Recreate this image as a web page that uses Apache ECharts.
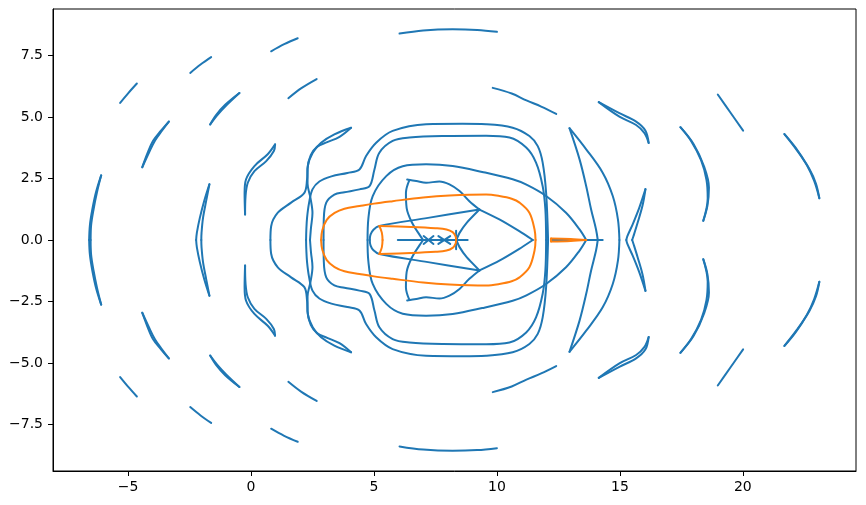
<!DOCTYPE html>
<html><head><meta charset="utf-8">
<script src="https://cdn.jsdelivr.net/npm/echarts@6/dist/echarts.min.js"></script>
<style>html,body{margin:0;padding:0;background:#fff}#c{width:866px;height:505px}</style>
</head><body><div id="c"></div>
<script>
// ---- tick labels ----
const xTicks = [-5, 0, 5, 10, 15, 20];
const yTicks = [-7.5, -5, -2.5, 0, 2.5, 5, 7.5];

// ---- blue outer fragments (upper half; lower half is their mirror image) ----
const arcA2 = [[-5.32,5.58],[-4.98,5.99],[-4.64,6.37]];
const arcA3a = [[-4.42,2.96],[-4.22,3.5],[-3.98,4.04],[-3.66,4.45],[-3.34,4.82]];
const arcA3b = [[-4.42,2.96],[-4.15,3.55],[-3.9,4.05],[-3.62,4.45],[-3.34,4.82]];
const arcA4 = [[-2.47,6.8],[-2.05,7.14],[-1.62,7.44]];
const arcA5a = [[-1.66,4.7],[-1.42,5.08],[-1.05,5.5],[-0.47,5.98]];
const arcA5b = [[-1.66,4.7],[-1.35,5.1],[-1.0,5.48],[-0.47,5.98]];
const arcA6 = [[0.82,7.68],[1.35,7.97],[1.9,8.21]];
const arcA7 = [[1.52,5.77],[2.05,6.18],[2.67,6.55]];
const arcTop = [[6.04,8.4],[7.0,8.53],[8.2,8.58],[9.2,8.55],[10.0,8.47]];
const arcA9 = [[9.83,6.19],[10.6,5.96],[11.2,5.68],[11.8,5.43],[12.41,5.13]];
const arcA10 = [[18.98,5.92],[19.5,5.18],[20.01,4.45]];
const lensA11a = [[21.69,4.31],[22.15,3.75],[22.6,3.05],[22.9,2.4],[23.11,1.7]];
const lensA11b = [[21.69,4.31],[22.2,3.65],[22.7,2.9],[22.97,2.3],[23.11,1.7]];
const lensA12a = [[17.46,4.59],[17.9,4.02],[18.3,3.25],[18.52,2.45],[18.57,1.7],[18.39,0.78]];
const lensA12b = [[17.46,4.59],[18.0,3.9],[18.42,3.0],[18.62,2.14],[18.56,1.4],[18.39,0.78]];
const lensA13a = [[14.14,5.61],[14.98,5.16],[15.66,4.82],[16.04,4.45],[16.17,3.95]];
const lensA13b = [[14.14,5.61],[14.98,5.02],[15.66,4.68],[16.0,4.35],[16.17,3.95]];
const lensZa = [[0.98,3.89],[0.68,3.49],[0.14,3.01],[-0.2,2.47],[-0.26,1.92],[-0.24,1.04]];
const lensZb = [[0.98,3.89],[0.93,3.62],[0.62,3.21],[0.14,2.8],[-0.13,2.33],[-0.22,1.79],[-0.24,1.04]];

// ---- blue curves reaching the x axis (upper half) ----
const arcA1a = [[-6.09,2.63],[-6.3,1.95],[-6.45,1.25],[-6.55,0.6],[-6.58,0]];
const arcA1b = [[-6.09,2.63],[-6.26,1.95],[-6.4,1.25],[-6.5,0.6],[-6.52,0]];
const lensLa = [[-1.69,2.27],[-1.9,1.6],[-2.08,0.9],[-2.2,0.3],[-2.23,0]];
const lensLb = [[-1.69,2.27],[-1.82,1.6],[-1.95,0.9],[-2.01,0.3],[-2.02,0]];
const leafR1 = [[12.95,4.55],[13.36,3.28],[13.63,2.19],[13.83,1.24],[14.03,0.43],[14.1,0]];
const leafR2 = [[12.95,4.55],[13.63,3.69],[14.3,2.74],[14.71,1.79],[14.92,0.84],[14.98,0]];
const hookA15a = [[16.04,2.07],[15.79,1.32],[15.52,0.64],[15.3,0.15],[15.26,0]];
const hookA15b = [[16.04,2.07],[15.92,1.4],[15.72,0.7],[15.55,0.15],[15.5,0]];
const loopL1 = [[12.08,0],[12.0,1.92],[11.86,3.15],[11.66,3.82],[11.32,4.23],[10.64,4.57],[9.56,4.71],[8.6,4.73],[7.12,4.71],[5.76,4.44],[5.09,3.96],[4.68,3.42],[4.41,2.87],[3.92,2.73],[3.27,2.59],[2.78,2.38],[2.5,2.06],[2.36,1.5],[2.28,0.9],[2.25,0.4],[2.24,0]];
const loopL2 = [[12.0,0],[11.97,1.24],[11.86,2.19],[11.59,3.15],[11.19,3.76],[10.51,4.17],[9.56,4.24],[7.8,4.23],[6.44,4.17],[5.76,4.03],[5.22,3.55],[5.02,2.87],[4.82,2.19],[4.41,2.06],[3.8,1.94],[3.39,1.85],[3.06,1.52],[2.96,0.84],[2.95,0]];
const loopL3 = [[13.63,0],[13.36,0.43],[12.81,1.11],[12.0,1.79],[11.2,2.25],[10.64,2.47],[9.4,2.77],[8.2,3.01],[7.12,3.08],[6.17,3.0],[5.5,2.6],[4.95,1.79],[4.77,0.84],[4.74,0]];
const waveW1 = [[4.07,4.57],[3.39,4.3],[2.85,3.96],[2.51,3.55],[2.31,3.01],[2.28,2.47],[2.17,1.92],[1.63,1.52],[1.09,1.11],[0.82,0.56],[0.79,0]];
const waveW2 = [[4.07,4.57],[3.6,4.2],[3.1,3.98],[2.7,3.8],[2.43,3.45],[2.3,2.9],[2.3,2.3],[2.42,1.7],[2.5,1.1],[2.44,0.5],[2.4,0]];
const bow = [[6.35,2.46],[6.72,2.4],[7.12,2.33],[7.66,2.38],[8.07,2.26],[8.48,1.99],[8.88,1.58],[9.29,1.24]];
const bowDown = [[6.44,2.44],[6.3,1.92],[6.33,1.3],[6.55,0.7],[6.85,0.22],[7.0,0]];
const cuspLeft = [[9.29,1.24],[7.2,0.9],[5.22,0.57],[4.98,0.42],[4.86,0.22],[4.83,0]];
const cuspRight = [[9.29,1.24],[10.1,0.84],[10.91,0.36],[11.46,0]];
const cuspDown = [[9.29,1.24],[8.77,0.7],[8.48,0.29],[8.35,0]];

// ---- blue marks on the axis ----
const barCenter = [[5.97,0],[8.81,0]];
const barRight = [[12.2,0],[14.3,0]];
const crossX1 = [[7.02,0.16],[7.42,-0.16]];
const crossX2 = [[7.62,0.16],[8.1,-0.16]];
const tickV = [[8.34,0.38],[8.34,-0.38]];

// ---- orange curves (upper half) ----
const orangeBig = [[2.85,0],[2.9,0.4],[3.08,0.82],[3.4,1.1],[3.8,1.27],[4.41,1.38],[5.0,1.48],[5.76,1.58],[7.0,1.73],[8.07,1.81],[9.56,1.85],[10.1,1.79],[10.6,1.68],[10.92,1.52],[11.32,1.11],[11.53,0.43],[11.57,0]];
const orangeSmall = [[5.22,0.57],[6.5,0.53],[7.5,0.48],[7.95,0.43],[8.2,0.32],[8.32,0.15],[8.34,0]];
const orangeSmallEdge = [[5.22,0.57],[5.32,0.3],[5.35,0]];
const orangeThin = [[12.2,0.06],[13.0,0.04],[13.63,0]];
const orangeThinEdge = [[12.2,0.06],[12.2,-0.06]];

const BLUE = '#1f77b4', ORANGE = '#ff7f0e';
const mirror = p => p.map(([x, y]) => [x, -y]);
const series = [];
function add(pts, color, smooth) {
  series.push({
    type: 'line', data: pts, symbol: 'none', showSymbol: false,
    smooth: smooth === undefined ? 0.35 : smooth, silent: true, animation: false,
    lineStyle: { color: color, width: 2, cap: 'round', join: 'round' },
    itemStyle: { color: color }, z: color === ORANGE ? 4 : 3
  });
}
function addPair(p, color, smooth) { add(p, color, smooth); add(mirror(p), color, smooth); }

[arcA2, arcA3a, arcA3b, arcA4, arcA5a, arcA5b, arcA6, arcA7, arcTop, arcA9, arcA10,
 lensA11a, lensA11b, lensA12a, lensA12b, lensA13a, lensA13b, lensZa, lensZb,
 arcA1a, arcA1b, lensLa, lensLb, leafR1, leafR2, hookA15a, hookA15b,
 loopL1, loopL2, loopL3, waveW1, waveW2, bow, bowDown, cuspLeft].forEach(p => addPair(p, BLUE));
[cuspRight, cuspDown].forEach(p => addPair(p, BLUE, 0.2));
add(barCenter, BLUE, false); add(barRight, BLUE, false);
addPair(crossX1, BLUE, false); addPair(crossX2, BLUE, false); add(tickV, BLUE, false);
[orangeBig, orangeSmall, orangeSmallEdge, orangeThin].forEach(p => addPair(p, ORANGE));
add(orangeThinEdge, ORANGE, false);

const labelStyle = { color: '#000', fontSize: 14, fontFamily: 'DejaVu Sans' };
const chart = echarts.init(document.getElementById('c'), null, { renderer: 'canvas' });
chart.setOption({
  animation: false,
  backgroundColor: '#fff',
  grid: { left: 53, right: 10, top: 9, bottom: 34, show: true, borderColor: '#000', borderWidth: 1, backgroundColor: 'transparent' },
  xAxis: {
    type: 'value', min: -8.05, max: 24.6,
    axisLine: { onZero: false, lineStyle: { color: '#000', width: 1 } },
    axisTick: { show: true, customValues: xTicks, length: 5, lineStyle: { color: '#000' } },
    axisLabel: Object.assign({ customValues: xTicks, margin: 9, formatter: v => String(v).replace('-', '\u2212') }, labelStyle),
    splitLine: { show: false }
  },
  yAxis: {
    type: 'value', min: -9.4, max: 9.4,
    axisLine: { onZero: false, lineStyle: { color: '#000', width: 1 } },
    axisTick: { show: true, customValues: yTicks, length: 5, lineStyle: { color: '#000' } },
    axisLabel: Object.assign({ customValues: yTicks, margin: 10, formatter: v => Number(v).toFixed(1).replace('-', '\u2212') }, labelStyle),
    splitLine: { show: false }
  },
  series: series
});
</script></body></html>
